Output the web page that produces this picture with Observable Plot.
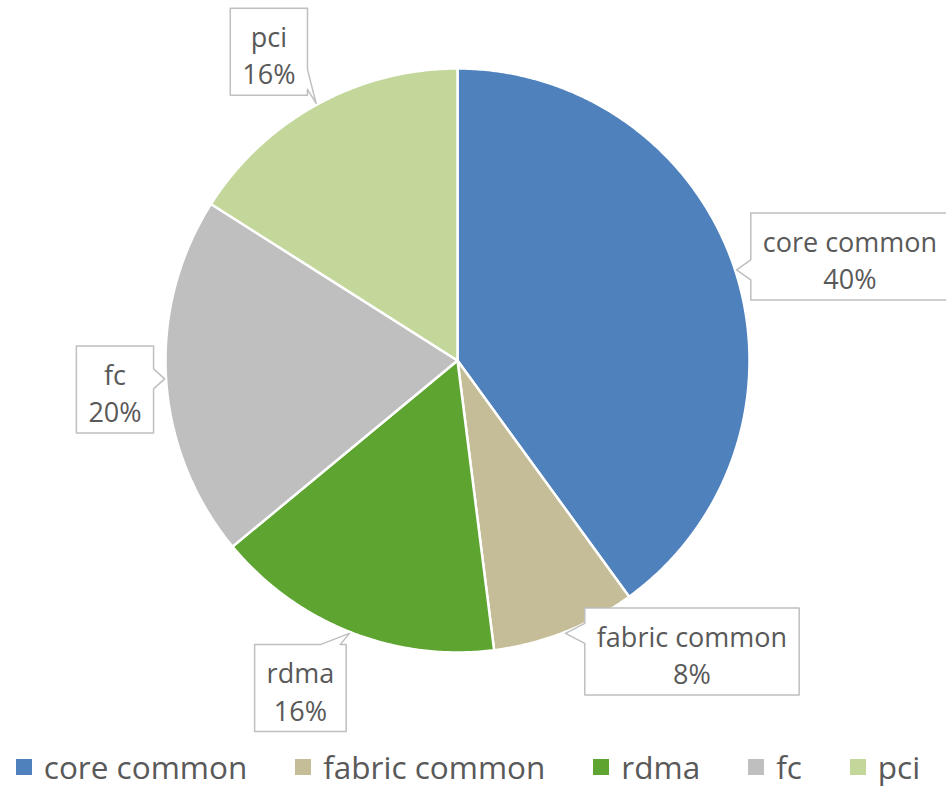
<!DOCTYPE html>
<html>
<head>
<meta charset="utf-8">
<script src="https://cdn.jsdelivr.net/npm/d3@7"></script>
<script src="https://cdn.jsdelivr.net/npm/@observablehq/plot@0.6"></script>
<style>
  html, body { margin: 0; padding: 0; background: #fff; overflow: hidden; }
  #chart svg { display: block; }
  .legend {
    box-sizing: border-box;
    display: flex; justify-content: center; align-items: center;
    gap: 48px; height: 46px; padding-bottom: 2px; padding-right: 10px;
    font-family: "Open Sans", sans-serif; font-size: 31.5px; line-height: 40px; color: #595959;
  }
  .legend .item { display: flex; align-items: center; gap: 12px; }
  .legend .sw { width: 16px; height: 16px; display: inline-block; }
</style>
</head>
<body>
<div id="chart"></div>
<div class="legend" id="legend"></div>
<script>
// Share of code by component
const categories = ["core common", "fabric common", "rdma", "fc", "pci"];
const shares = [40, 8, 16, 20, 16];
const colors = ["#4F81BD", "#C4BD97", "#5EA431", "#BFBFBF", "#C4D79B"];

// Callout box centres, in chart units (pie radius = 1)
const calloutCenters = [[1.344, 0.356], [0.803, -0.997], [-0.538, -1.122], [-1.173, -0.099], [-0.646, 1.057]];

// Pie placement on the page
const W = 946, H = 745, CX = 457, CY = 360, R = 292;
const font = "'Open Sans', sans-serif";
const labelSize = 27;

const rowsData = categories.map((c, i) => ({cat: c, share: shares[i]}));
const arcs = d3.pie().sort(null).value(d => d.share).startAngle(0).endAngle(2 * Math.PI)(rowsData);

// Slice outlines: centre point followed by points along the arc
const slices = [];
for (const a of arcs) {
  slices.push({cat: a.data.cat, x: 0, y: 0});
  const n = Math.max(2, Math.ceil((a.endAngle - a.startAngle) / (Math.PI / 360)));
  for (let k = 0; k <= n; ++k) {
    const t = a.startAngle + (a.endAngle - a.startAngle) * k / n;
    slices.push({cat: a.data.cat, x: Math.sin(t), y: Math.cos(t)});
  }
}

// Callout boxes with a pointer reaching the slice edge
const ctx = document.createElement("canvas").getContext("2d");
ctx.font = `${labelSize}px ${font}`;
const toUnits = ([px, py]) => ({x: (px - CX) / R, y: (CY - py) / R});

const callouts = [];
const labels = [];
arcs.forEach((a, i) => {
  const lines = [a.data.cat, `${a.data.share}%`];
  const w = Math.max(...lines.map(s => ctx.measureText(s).width)) + 24;
  const h = 87;
  const [u, v] = calloutCenters[i];
  const bx = CX + u * R, by = CY - v * R;
  const mid = (a.startAngle + a.endAngle) / 2;
  const tx = CX + Math.sin(mid) * R * 1.005, ty = CY - Math.cos(mid) * R * 1.005;
  const L = bx - w / 2, Rt = bx + w / 2, T = by - h / 2, B = by + h / 2;
  const dx = (tx - bx) / (w / 2), dy = (ty - by) / (h / 2);
  const clamp = (t, lo, hi) => Math.max(lo + 16, Math.min(hi - 16, t));
  let pts;
  if (Math.abs(dy) >= Math.abs(dx)) {
    const c = clamp(tx, L, Rt), b1 = c - 10, b2 = c + 10;
    pts = dy < 0
      ? [[L, T], [b1, T], [tx, ty], [b2, T], [Rt, T], [Rt, B], [L, B]]
      : [[L, T], [Rt, T], [Rt, B], [b2, B], [tx, ty], [b1, B], [L, B]];
  } else {
    const c = clamp(ty, T, B), b1 = c - 10, b2 = c + 10;
    pts = dx > 0
      ? [[L, T], [Rt, T], [Rt, b1], [tx, ty], [Rt, b2], [Rt, B], [L, B]]
      : [[L, T], [Rt, T], [Rt, B], [L, B], [L, b2], [tx, ty], [L, b1]];
  }
  for (const p of pts) callouts.push({cat: a.data.cat, ...toUnits(p)});
  labels.push({cat: a.data.cat, text: lines.join("\n"), ...toUnits([bx, by + 2])});
});

const chart = Plot.plot({
  width: W,
  height: H,
  margin: 0,
  style: {background: "white", fontFamily: font},
  x: {domain: [-1, 1], range: [CX - R, CX + R], axis: null},
  y: {domain: [-1, 1], range: [CY + R, CY - R], axis: null},
  color: {domain: categories, range: colors},
  marks: [
    Plot.line(slices, {x: "x", y: "y", z: "cat", fill: "cat", stroke: "white", strokeWidth: 2.5, strokeLinejoin: "round", curve: "linear-closed"}),
    Plot.line(callouts, {x: "x", y: "y", z: "cat", fill: "white", stroke: "#BFBFBF", strokeWidth: 1.5, curve: "linear-closed"}),
    Plot.text(labels, {x: "x", y: "y", text: "text", fontSize: labelSize, fill: "#595959", lineHeight: 1.38, fontFamily: font})
  ]
});
document.getElementById("chart").append(chart);

// Legend below the pie
const legend = document.getElementById("legend");
categories.forEach((c, i) => {
  const item = document.createElement("div");
  item.className = "item";
  const sw = document.createElement("span");
  sw.className = "sw";
  sw.style.background = colors[i];
  const tx = document.createElement("span");
  tx.textContent = c;
  item.append(sw, tx);
  legend.append(item);
});
</script>
</body>
</html>
